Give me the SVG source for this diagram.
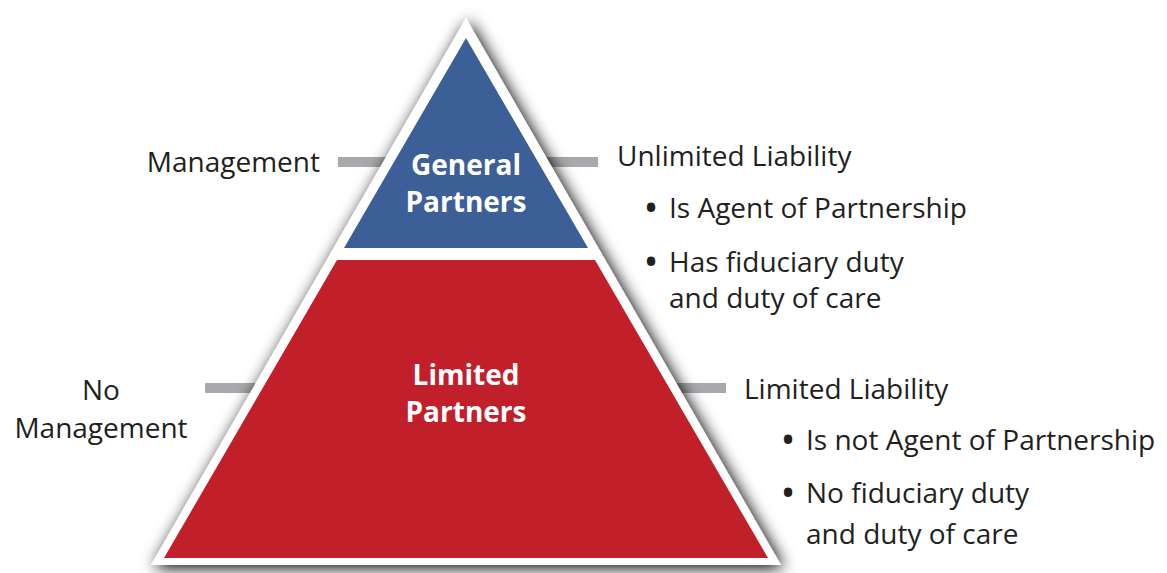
<svg xmlns="http://www.w3.org/2000/svg" width="1167" height="573" viewBox="0 0 1167 573">
<defs>
<filter id="shadow" x="-15%" y="-15%" width="130%" height="130%">
<feDropShadow dx="3" dy="3" stdDeviation="8" flood-color="#000" flood-opacity="1"/>
</filter>
<style>
.lbl{font-family:"Open Sans","Liberation Sans",sans-serif;font-size:28px;fill:#231f20}
.blt{font-family:"Open Sans","Liberation Sans",sans-serif;font-size:40px;fill:#231f20;text-anchor:middle}
.ttl{font-family:"Open Sans","Liberation Sans",sans-serif;font-size:28px;font-weight:bold;fill:#ffffff;text-anchor:middle}
.bar{fill:#a7a9ac}
</style>
</defs>
<rect width="1167" height="573" fill="#ffffff"/>
<g id="connectors">
<rect class="bar" x="338" y="157" width="50" height="10"/>
<rect class="bar" x="545" y="157" width="53" height="10"/>
<rect class="bar" x="205" y="383" width="50" height="10"/>
<rect class="bar" x="676" y="383" width="50" height="10"/>
</g>
<g id="pyramid-outline">
<polygon points="466,18 781,565 151,565" fill="#ffffff" filter="url(#shadow)"/>
</g>
<g id="general-partners">
<polygon points="466,38 588,248 344,248" fill="#3d5f98"/>
<text class="ttl" x="466" y="175">General</text>
<text class="ttl" x="466" y="212">Partners</text>
</g>
<g id="limited-partners">
<polygon points="337,260 595,260 768,558 164,558" fill="#c1202a"/>
<text class="ttl" x="466" y="385">Limited</text>
<text class="ttl" x="466" y="422">Partners</text>
</g>
<g id="management">
<text class="lbl" x="320" y="172" text-anchor="end">Management</text>
</g>
<g id="unlimited-liability">
<text class="lbl" x="617" y="166">Unlimited Liability</text>
<text class="blt" x="651" y="222">•</text>
<text class="lbl" x="669" y="218">Is Agent of Partnership</text>
<text class="blt" x="651" y="276">•</text>
<text class="lbl" x="669" y="272">Has fiduciary duty</text>
<text class="lbl" x="669" y="308">and duty of care</text>
</g>
<g id="no-management">
<text class="lbl" x="101" y="400" text-anchor="middle">No</text>
<text class="lbl" x="101" y="438" text-anchor="middle">Management</text>
</g>
<g id="limited-liability">
<text class="lbl" x="744" y="399">Limited Liability</text>
<text class="blt" x="788" y="454">•</text>
<text class="lbl" x="806" y="450">Is not Agent of Partnership</text>
<text class="blt" x="788" y="507">•</text>
<text class="lbl" x="806" y="503">No fiduciary duty</text>
<text class="lbl" x="806" y="544">and duty of care</text>
</g>
</svg>
